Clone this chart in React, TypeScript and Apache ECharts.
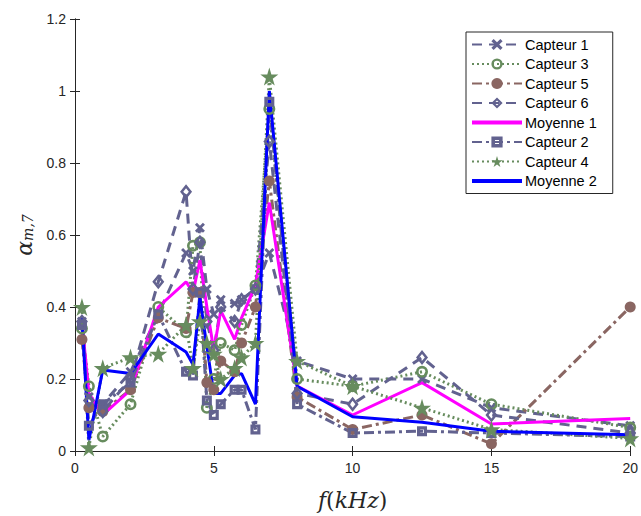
import React, { useEffect, useRef } from "react";
import * as echarts from "echarts";

const freqs = [0.25, 0.5, 1, 2, 3, 4, 4.25, 4.5, 4.75, 5, 5.25, 5.75, 6, 6.5, 7, 8, 10, 12.5, 15, 20];
const capteur1 = [0.36, 0.15, 0.13, 0.22, 0.38, 0.55, 0.5, 0.62, 0.45, 0.38, 0.42, 0.41, 0.42, 0.45, 0.55, 0.25, 0.2, 0.2, 0.12, 0.07];
const capteur3 = [0.34, 0.18, 0.04, 0.13, 0.4, 0.33, 0.57, 0.58, 0.12, 0.2, 0.3, 0.28, 0.35, 0.46, 0.95, 0.2, 0.18, 0.22, 0.13, 0.065];
const capteur5 = [0.31, 0.12, 0.11, 0.17, 0.37, 0.34, 0.44, 0.44, 0.19, 0.17, 0.25, 0.22, 0.3, 0.4, 0.75, 0.15, 0.06, 0.1, 0.02, 0.4];
const capteur6 = [0.36, 0.14, 0.11, 0.2, 0.47, 0.72, 0.45, 0.58, 0.36, 0.28, 0.4, 0.36, 0.42, 0.45, 0.86, 0.16, 0.13, 0.26, 0.1, 0.05];
const moyenne1 = [0.36, 0.16, 0.1, 0.17, 0.4, 0.47, 0.44, 0.53, 0.4, 0.28, 0.39, 0.31, 0.37, 0.46, 0.69, 0.18, 0.1, 0.19, 0.075, 0.09];
const capteur2 = [0.35, 0.07, 0.13, 0.19, 0.38, 0.22, 0.21, 0.44, 0.14, 0.1, 0.13, 0.17, 0.17, 0.06, 0.97, 0.13, 0.05, 0.055, 0.05, 0.04];
const capteur4 = [0.4, 0.01, 0.23, 0.26, 0.27, 0.35, 0.23, 0.36, 0.3, 0.27, 0.2, 0.23, 0.26, 0.3, 1.04, 0.25, 0.18, 0.12, 0.06, 0.035];
const moyenne2 = [0.37, 0.03, 0.225, 0.215, 0.325, 0.275, 0.24, 0.425, 0.29, 0.16, 0.16, 0.21, 0.215, 0.13, 1.0, 0.18, 0.095, 0.08, 0.055, 0.045];

const SLATE = "#62628f";
const GREEN = "#678c5e";
const BROWN = "#8a6662";
const AXIS = "#262626";

const X_SYMBOL = "path://M2,0 L5,3 L8,0 L10,2 L7,5 L10,8 L8,10 L5,7 L2,10 L0,8 L3,5 L0,2 Z";
const STAR_SYMBOL = "path://M50,0 L61,35 L98,35 L68,57 L79,91 L50,70 L21,91 L32,57 L2,35 L39,35 Z";
const RING_SYMBOL = "path://M6,0 A6,6 0 1,1 6,12 A6,6 0 1,1 6,0 Z M6,2.6 A3.4,3.4 0 1,0 6,9.4 A3.4,3.4 0 1,0 6,2.6 Z";
const DIAMOND_RING = "path://M6,0 L12,7 L6,14 L0,7 Z M6,3.8 L3.2,7 L6,10.2 L8.8,7 Z";
const SQUARE_RING = "path://M0,0 L10,0 L10,10 L0,10 Z M3.2,3.2 L3.2,6.8 L6.8,6.8 L6.8,3.2 Z";
const BAR_ICON = "path://M0,0 L50,0 L50,4 L0,4 Z";

function pairs(v: number[]) {
  return freqs.map((f, i) => [f, v[i]]);
}

export default function App() {
  const ref = useRef<HTMLDivElement>(null);
  useEffect(() => {
    if (!ref.current) return;
    const chart = echarts.init(ref.current, undefined, { renderer: "svg" });
    const mk = (
      name: string,
      data: number[],
      color: string,
      type: any,
      symbol: string,
      symbolSize: any
    ) => ({
      name,
      type: "line",
      data: pairs(data),
      symbol,
      symbolSize,
      showSymbol: symbol !== "none",
      lineStyle: { color, width: 3, type },
      itemStyle: { color, borderColor: color, borderWidth: 0 },
      color,
      z: 2,
    });
    const series = [
      mk("Capteur 1", capteur1, SLATE, [10, 7], X_SYMBOL, 10),
      mk("Capteur 3", capteur3, GREEN, [2, 3], RING_SYMBOL, 12),
      mk("Capteur 5", capteur5, BROWN, [10, 4, 3, 4], "circle", 11),
      mk("Capteur 6", capteur6, SLATE, [10, 7], DIAMOND_RING, [12, 15]),
      mk("Moyenne 1", moyenne1, "#ff00ff", "solid", "none", 0),
      mk("Capteur 2", capteur2, SLATE, [10, 4, 3, 4], SQUARE_RING, 10),
      mk("Capteur 4", capteur4, GREEN, [2, 3], STAR_SYMBOL, 18),
      mk("Moyenne 2", moyenne2, "#0000ff", "solid", "none", 0),
    ];
    const axisCommon = {
      axisLine: { show: true, lineStyle: { color: AXIS, width: 1 } },
      axisTick: { show: true, inside: true, length: 5, lineStyle: { color: AXIS } },
      splitLine: { show: false },
    };
    const labelStyle = { color: AXIS, fontSize: 14, fontFamily: "Liberation Sans, Arial, sans-serif" };
    chart.setOption({
      animation: false,
      backgroundColor: "#ffffff",
      grid: { left: 75, right: 6, top: 19, bottom: 61, containLabel: false },
      xAxis: [
        {
          type: "value",
          min: 0,
          max: 20,
          interval: 5,
          position: "bottom",
          ...axisCommon,
          axisLabel: { ...labelStyle, margin: 10 },
          name: "{i|f}{u|(}{i|kHz}{u|)}",
          nameLocation: "middle",
          nameGap: 38,
          nameTextStyle: {
            rich: {
              i: { fontFamily: "DejaVu Serif, serif", fontStyle: "italic", fontSize: 22, color: AXIS },
              u: { fontFamily: "DejaVu Serif, serif", fontSize: 22, color: AXIS },
            },
          },
        },
        {
          type: "value",
          min: 0,
          max: 20,
          interval: 5,
          position: "top",
          ...axisCommon,
          axisLabel: { show: false },
        },
      ],
      yAxis: [
        {
          type: "value",
          min: 0,
          max: 1.2,
          interval: 0.2,
          position: "left",
          ...axisCommon,
          axisLabel: { ...labelStyle, margin: 9, formatter: (v: number) => String(Math.round(v * 10) / 10) },
          name: "{a|α}{s|m,7}",
          nameLocation: "middle",
          nameGap: 40,
          nameRotate: 90,
          nameTextStyle: {
            rich: {
              a: { fontFamily: "DejaVu Serif, serif", fontStyle: "italic", fontSize: 22, color: AXIS },
              s: { fontFamily: "DejaVu Serif, serif", fontStyle: "italic", fontSize: 14, color: AXIS, verticalAlign: "bottom", padding: [8, 0, 0, 0] },
            },
          },
        },
        {
          type: "value",
          min: 0,
          max: 1.2,
          interval: 0.2,
          position: "right",
          ...axisCommon,
          axisLabel: { show: false },
        },
      ],
      legend: {
        orient: "vertical",
        left: 466,
        top: 32,
        itemWidth: 50,
        itemHeight: 14,
        itemGap: 4.5,
        padding: [5, 16, 5, 5],
        backgroundColor: "#ffffff",
        borderColor: AXIS,
        borderWidth: 1,
        textStyle: { color: "#000000", fontSize: 14.5, fontFamily: "Liberation Sans, Arial, sans-serif", padding: [0, 0, 0, -2] },
        data: series.map((s) =>
          s.name.startsWith("Moyenne")
            ? { name: s.name, icon: BAR_ICON, itemStyle: { color: s.color } }
            : { name: s.name }
        ),
      },
      series,
    });
    return () => chart.dispose();
  }, []);
  return (
    <div
      ref={ref}
      style={{ position: "fixed", left: 0, top: 0, width: 641, height: 516, background: "#fff" }}
    />
  );
}
